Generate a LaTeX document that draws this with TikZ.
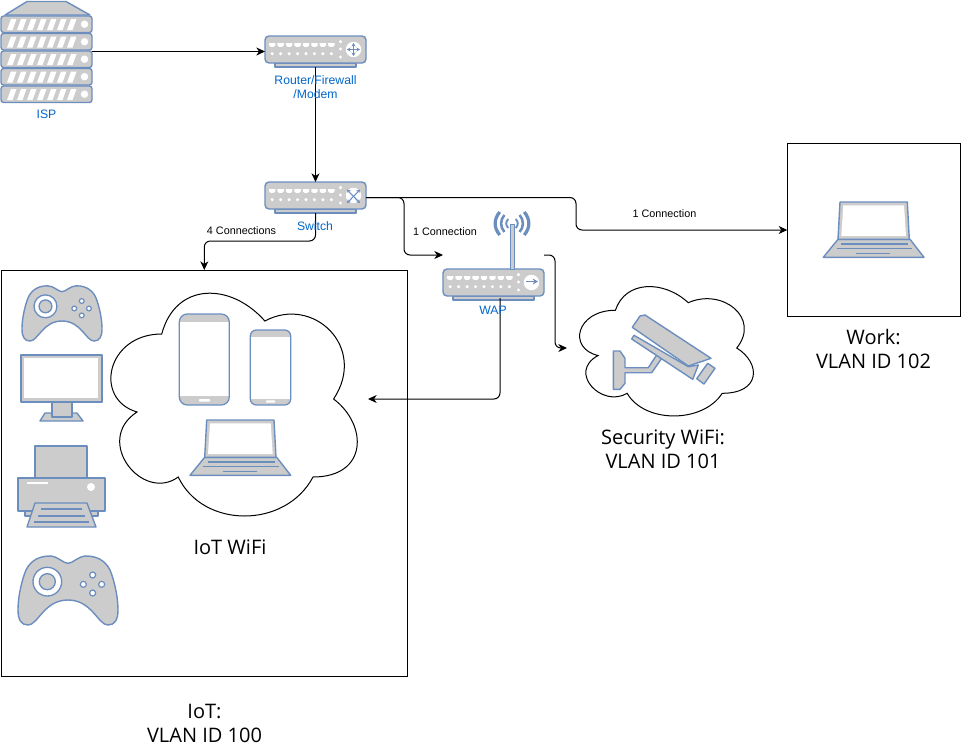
\documentclass[tikz,border=0pt]{standalone}
\usepackage{fontspec}
\setmainfont{Open Sans}
\newfontfamily\lsans{Liberation Sans}
\usetikzlibrary{arrows.meta,calc}
\definecolor{icoblue}{HTML}{6C8EBF}
\definecolor{icogray}{HTML}{CCCCCC}
\definecolor{lblblue}{HTML}{0066CC}
\tikzset{
  x=0.75pt,y=-0.75pt,
  region/.style 2 args={minimum width=#1*0.75pt,minimum height=#2*0.75pt,inner sep=0pt,outer sep=0pt},
  frame/.style={draw=black,line width=0.75pt},
  conn/.style={draw=black,line width=0.75pt,rounded corners=4.5pt,-{Stealth[length=6.5pt,width=6pt,inset=2pt]}},
  ico/.style={draw=icoblue,fill=icogray,line width=1.05pt,line join=round},
  icoline/.style={draw=icoblue,line width=0.95pt},
  sym/.style={draw=icoblue,line width=0.7pt},
  dbl/.style={{Stealth[length=2.6pt,width=3pt]}-{Stealth[length=2.6pt,width=3pt]}},
  devlabel/.style={font=\lsans\fontsize{9.15}{10.5}\selectfont,text=lblblue,align=center,inner sep=0pt},
  edgelabel/.style={font=\lsans\fontsize{8.1}{9}\selectfont,text=black,inner sep=0pt},
  biglabel/.style={font=\fontsize{15}{18}\selectfont,text=black,align=center,inner sep=0pt},
  serverunit/.pic={
    \draw[ico,rounded corners=2pt] (0,0) rectangle (91,16.5);
    \foreach \i in {0,...,6}{
      \fill[white] (6+10*\i,14) -- (10+10*\i,3) -- (15.5+10*\i,3) -- (11.5+10*\i,14) -- cycle;
    }
    \fill[white] (83.5,8.2) circle (2.8pt);
  },
  netdev/.pic={
    \draw[ico] (10,27) rectangle (91,31);
    \draw[ico,rounded corners=3pt] (0,0) rectangle (101,27);
    \foreach \i in {0,...,7}{
      \fill[white] (4+8.45*\i,7) -- ++(6.4,0) -- ++(0,2.4) -- ++(-1.6,1.4) -- ++(-3.2,0) -- ++(-1.6,-1.4) -- cycle;
      \fill[white] (7.2+8.45*\i,17.7) circle (1.3pt);
    }
    \foreach \yy in {5.7,13,21}{ \fill[white] (75.5,\yy) circle (1.3pt); }
    \fill[white] (88.5,13.5) circle (5.8pt);
  },
  laptop/.pic={
    \draw[ico] (14.7,37.3) -- (86.7,37.3) -- (100.7,55.3) -- (0,55.3) -- cycle;
    \draw[ico] (16.7,0) -- (84,0) -- (86,37.3) -- (14.7,37.3) -- cycle;
    \fill[white] (20,3.3) -- (80.7,3.3) -- (82.7,34) -- (18,34) -- cycle;
    \draw[icoline] (17.7,42) -- (84.7,42);
    \draw[icoline] (13.4,46.7) -- (88.7,46.7);
    \draw[icoline] (32.7,51.3) -- (66.7,51.3);
  },
  gamepad/.pic={
    \draw[ico] (150,25) .. controls (165,25) and (180,3) .. (205,3)
      .. controls (245,3) and (270,25) .. (280,55)
      .. controls (292,90) and (300,130) .. (300,165)
      .. controls (300,195) and (290,210) .. (270,210)
      .. controls (240,210) and (222,135) .. (150,135)
      .. controls (78,135) and (60,210) .. (30,210)
      .. controls (10,210) and (0,195) .. (0,165)
      .. controls (0,130) and (8,90) .. (20,55)
      .. controls (30,25) and (55,3) .. (95,3)
      .. controls (120,3) and (135,25) .. (150,25) -- cycle;
    \path[draw=icoblue,fill=white,line width=1pt] (88,80) circle (32.25pt);
    \path[draw=icoblue,fill=icogray,line width=1pt] (88,80) circle (18pt);
    \foreach \bx/\by in {224/60,196/88,251/88,224/114}{
      \path[draw=icoblue,fill=white,line width=0.9pt] (\bx,\by) circle (6.75pt);
    }
  },
  cloudshape/.pic={
    \draw[frame,fill=white,line join=miter]
      (0.25,0.25) .. controls (0.05,0.25) and (0,0.5) .. (0.16,0.55)
      .. controls (0,0.66) and (0.18,0.9) .. (0.31,0.8)
      .. controls (0.4,1) and (0.7,1) .. (0.8,0.8)
      .. controls (1,0.8) and (1,0.6) .. (0.875,0.5)
      .. controls (1,0.3) and (0.8,0.1) .. (0.625,0.2)
      .. controls (0.5,0.05) and (0.3,0.05) .. (0.25,0.25) -- cycle;
  },
}
\begin{document}
\begin{tikzpicture}
\useasboundingbox (0,0) rectangle (961,754);
\fill[white] (0,0) rectangle (961,754);

% regions that connectors attach to
\node[region={91}{101}] (isp) at (46.5,51.5) {};
\node[region={101}{31}] (router) at (315.5,51.5) {};
\node[region={101}{31}] (switch) at (315.5,197.5) {};
\node[region={101}{86}] (wap) at (493.5,255) {};
\coordinate (wapout) at (500,298);
\node[frame,region={406.2}{406}] (iot) at (204.3,473) {};
\node[frame,region={173}{173.5}] (work) at (873.8,230) {};
\node[region={275}{260}] (iotcloud) at (230.5,399) {};
\node[region={194}{151}] (seccloud) at (664,348) {};

% clouds
\pic[xscale=275,yscale=260] at (iotcloud.north west) {cloudshape};
\pic[xscale=194,yscale=151] at (seccloud.north west) {cloudshape};

% ISP
\draw[ico] (5,15) -- (27,1.5) -- (66,1.5) -- (90,15) -- cycle;
\foreach \yy in {16,33.5,51,68.5,86}{ \pic at (1,\yy) {serverunit}; }

% network devices
\pic at (265,36) {netdev};
\draw[sym,dbl] (347,49.5) -- (360,49.5);
\draw[sym,dbl] (353.5,43) -- (353.5,56);
\pic at (265,182) {netdev};
\draw[sym,dbl,line width=0.8pt] (347,189.5) .. controls (352,195) and (355,198) .. (360,203);
\draw[sym,dbl,line width=0.8pt] (360,189.5) .. controls (355,195) and (352,198) .. (347,203);
\pic at (443,269) {netdev};
\draw[sym,line width=1pt,-{Stealth[length=4pt,width=4.5pt]}] (526,281.5) -- (538,281.5);

% antenna
\draw[ico,line width=0.75pt] (510,269) -- (510,224) -- (514,224) -- (514,269) -- cycle;
\foreach \sgn in {-1,1}{
  \draw[icoblue,line width=2.4pt] (512+\sgn*12.2,212) .. controls (512+\sgn*18.4,219) and (512+\sgn*18.4,228) .. (512+\sgn*12.2,235);
  \draw[icoblue,line width=1.9pt] (512+\sgn*7.6,215) .. controls (512+\sgn*12,220) and (512+\sgn*12,227) .. (512+\sgn*7.6,232);
  \draw[icoblue,line width=1.4pt] (512+\sgn*3.7,219) .. controls (512+\sgn*6.5,222) and (512+\sgn*6.5,225) .. (512+\sgn*3.7,228);
}

% IoT devices
\pic[scale=0.2667] at (22,285) {gamepad};
\draw[ico] (45,413) -- (77,413) -- (83,421) -- (40,421) -- cycle;
\draw[ico] (52,402) rectangle (72,417);
\draw[ico] (21,355) rectangle (102,402);
\fill[white] (24,358) rectangle (98,398);

\draw[ico] (35,446) rectangle (87,480);
\draw[ico] (25,505) rectangle (98,516);
\draw[ico] (18,478) rectangle (105,511);
\draw[white,line width=1pt] (27,483) -- (48,483);
\fill[white] (91,487) circle (3pt);
\draw[ico] (35,503) -- (87,503) -- (96,527) -- (27,527) -- cycle;
\draw[icoline] (41,509) -- (82,509);
\draw[icoline] (38,516) -- (85,516);
\draw[icoline] (34,522) -- (89,522);

% phones
\begin{scope}
  \clip[rounded corners=6pt] (179.3,314) rectangle (229.3,405);
  \fill[white] (179.3,314) rectangle (229.3,405);
  \fill[icogray] (179.3,314) rectangle (229.3,322.3);
  \fill[icogray] (179.3,396) rectangle (229.3,405);
\end{scope}
\draw[icoline,rounded corners=6pt] (179.3,314) rectangle (229.3,405);
\fill[white,rounded corners=0.6pt] (199,399) rectangle (210,401.7);

\begin{scope}
  \clip[rounded corners=4.5pt] (250.3,330) rectangle (290.7,405);
  \fill[white] (250.3,330) rectangle (290.7,405);
  \fill[icogray] (250.3,330) rectangle (290.7,337.3);
  \fill[icogray] (250.3,399) rectangle (290.7,405);
\end{scope}
\draw[icoline,rounded corners=4.5pt] (250.3,330) rectangle (290.7,405);
\fill[white,rounded corners=0.6pt] (266,400.3) rectangle (275,402.7);

\pic at (190,420) {laptop};
\pic at (823.3,202) {laptop};

% second game pad
\pic[scale=0.3333] at (18,555) {gamepad};

% camera
\draw[ico] (613.3,351) -- (620,351) -- (625,358.3) -- (625,367.7) -- (648.3,367.7) -- (656.7,355) -- (661.7,358.3) -- (651.7,372.7) -- (625,372.7) -- (625,383.3) -- (620,389.3) -- (613.3,389.3) -- cycle;
\draw[ico] (634,335.3) -- (688.3,366.7) -- (698.3,365) -- (692.7,379.3) -- (631.7,339) -- cycle;
\draw[ico] (645,315) -- (711,358.3) -- (688.3,366) -- (632.3,327.3) -- (640,316) -- cycle;
\draw[ico] (707.7,363.3) -- (715,368.3) -- (704,384) -- (696.7,378.7) -- cycle;

% connectors
\draw[conn] (isp.east) -- (router.west);
\draw[conn] (router.south) -- (switch.north);
\draw[conn] (switch.south) -- ++(0,28) -| (iot.north);
\draw[conn] (switch.east) -- ++(38,0) |- (wap.west);
\draw[conn] (switch.east) -- ++(210,0) |- (work.west);
\draw[conn] (wapout) |- (iotcloud.east);
\draw[conn] (wap.east) -- ++(11,0) |- (seccloud.west);

% labels
\node[devlabel] (lisp) at (46.5,114.5) {ISP};
\node[devlabel] (lrouter) at (315.5,87) {Router/Firewall\\/Modem};
\node[devlabel] (lswitch) at (315,226) {Switch};
\node[devlabel] (lwap) at (493,310.5) {WAP};
\node[edgelabel] (l4) at (241.5,231) {4 Connections};
\node[edgelabel] (l1a) at (445,232) {1 Connection};
\node[edgelabel] (l1b) at (664.5,214) {1 Connection};
\node[biglabel] (liot) at (204.5,723) {IoT:\\VLAN ID 100};
\node[biglabel] (lwork) at (873.5,349) {Work:\\VLAN ID 102};
\node[biglabel] (lsec) at (663,449) {Security WiFi:\\VLAN ID 101};
\node[biglabel] (liotw) at (230,547) {IoT WiFi};
\end{tikzpicture}
\end{document}
